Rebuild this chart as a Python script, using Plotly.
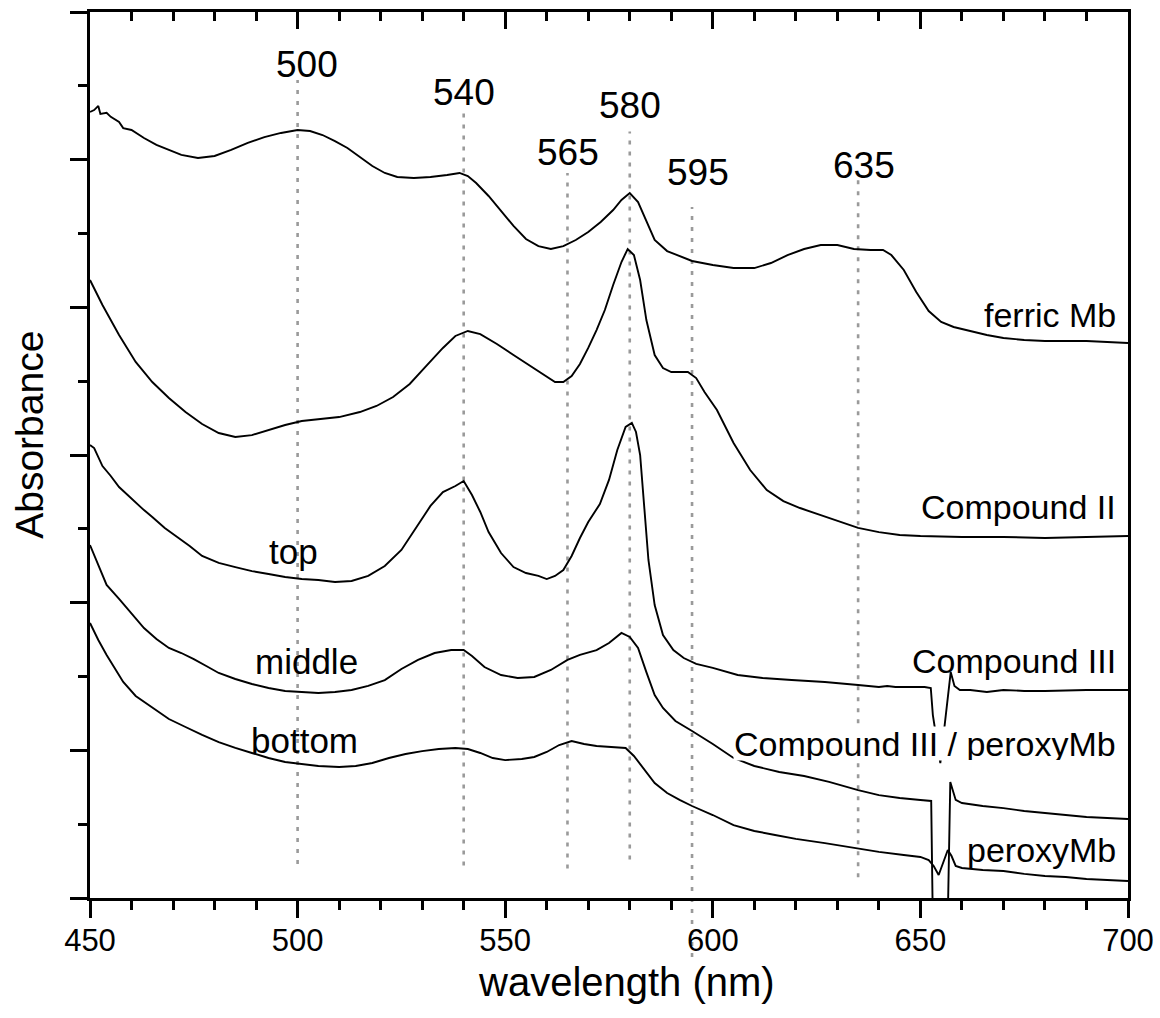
import plotly.graph_objects as go

# ---------------- data ----------------
wl_ferric = [450, 451, 452, 452.5, 454, 455, 457, 458, 460, 463, 466, 469, 472, 476, 480, 484, 488, 492, 496,
             500, 503, 506, 509, 512, 515, 518, 521, 524, 528, 532, 536, 539, 541, 543, 546, 549, 552, 555, 558,
             561, 564, 567, 570, 573, 576, 578, 580, 582, 584, 586, 589, 592, 595, 600, 605, 610, 614, 618, 622,
             626, 630, 634, 638, 641, 643, 646, 649, 652, 655, 658, 662, 666, 670, 675, 680, 685, 690, 695, 700]
abs_ferric = [5.323, 5.336, 5.364, 5.310, 5.317, 5.290, 5.255, 5.214, 5.201, 5.147, 5.100, 5.066, 5.032, 5.011,
              5.025, 5.066, 5.113, 5.153, 5.181, 5.201, 5.194, 5.167, 5.126, 5.079, 5.018, 4.957, 4.910, 4.883,
              4.876, 4.883, 4.896, 4.910, 4.889, 4.842, 4.754, 4.652, 4.551, 4.463, 4.415, 4.395, 4.415, 4.456,
              4.510, 4.578, 4.659, 4.727, 4.774, 4.713, 4.578, 4.456, 4.381, 4.347, 4.314, 4.287, 4.266, 4.266,
              4.300, 4.354, 4.395, 4.422, 4.422, 4.395, 4.388, 4.388, 4.354, 4.253, 4.104, 3.975, 3.901, 3.867,
              3.840, 3.813, 3.792, 3.779, 3.772, 3.772, 3.772, 3.765, 3.758]

wl_comp2 = [450, 453, 457, 461, 465, 469, 473, 477, 481, 485, 489, 493, 497, 501, 505, 510, 515, 519, 523, 527,
            531, 535, 538, 541, 544, 548, 552, 556, 560, 562, 564, 566, 568, 570, 572, 574, 576, 578, 579.5, 581,
            582.5, 584, 586, 588, 590, 594, 596, 598, 601, 605, 609, 613, 617, 621, 626, 630, 635, 640, 645, 650,
            660, 670, 680, 690, 700]
abs_comp2 = [4.185, 4.016, 3.813, 3.630, 3.494, 3.386, 3.291, 3.210, 3.149, 3.122, 3.135, 3.169, 3.203, 3.230,
             3.244, 3.257, 3.291, 3.332, 3.393, 3.481, 3.603, 3.725, 3.806, 3.840, 3.819, 3.752, 3.677, 3.603,
             3.528, 3.494, 3.494, 3.535, 3.616, 3.725, 3.846, 3.982, 4.151, 4.307, 4.395, 4.354, 4.185, 3.914,
             3.677, 3.589, 3.562, 3.562, 3.521, 3.427, 3.305, 3.081, 2.898, 2.763, 2.688, 2.641, 2.593, 2.553,
             2.506, 2.478, 2.458, 2.451, 2.445, 2.445, 2.438, 2.445, 2.451]

wl_comp3 = [450, 451, 453, 455, 457, 459, 461, 463, 465, 468, 471, 474, 477, 481, 485, 489, 493, 497, 501, 505,
            509, 513, 517, 521, 525, 529, 532, 535, 538, 540, 542, 544, 546, 549, 552, 555, 558, 560, 562, 564,
            566, 568, 570, 572.8, 575, 577, 579, 580.5, 581.5, 582.5, 583.5, 584.5, 586, 588, 590.5, 593, 596,
            600, 606, 612, 619, 627, 635, 640, 642, 644, 648, 651, 652.5, 653, 654.8, 656.5, 657.3, 658.2,
            659.5, 662, 666, 670, 675, 680, 690, 700]
abs_comp3 = [3.068, 3.047, 2.925, 2.858, 2.783, 2.729, 2.675, 2.627, 2.580, 2.506, 2.445, 2.384, 2.316, 2.269,
             2.241, 2.214, 2.194, 2.174, 2.160, 2.153, 2.140, 2.147, 2.181, 2.248, 2.357, 2.526, 2.655, 2.749,
             2.790, 2.824, 2.729, 2.614, 2.478, 2.336, 2.241, 2.201, 2.181, 2.160, 2.181, 2.221, 2.316, 2.438,
             2.546, 2.668, 2.831, 3.034, 3.190, 3.217, 3.156, 3.000, 2.661, 2.289, 1.984, 1.781, 1.679, 1.625,
             1.585, 1.558, 1.510, 1.490, 1.476, 1.463, 1.442, 1.429, 1.436, 1.429, 1.429, 1.429, 1.422, 1.239,
             0.914, 1.341, 1.530, 1.436, 1.409, 1.409, 1.395, 1.409, 1.402, 1.402, 1.409, 1.409]

wl_comp3_peroxy = [450, 452, 454, 457, 460, 463, 466, 469, 472, 475, 478, 481, 485, 489, 493, 497, 501, 505, 509,
                   513, 517, 521, 525, 529, 533, 537, 540, 542, 545, 549, 553, 557, 561, 565, 568, 572, 575, 578,
                   580, 582, 584, 586, 588, 591, 595, 600, 605, 610, 616, 622, 628, 635, 640, 645, 650, 652.6,
                   653.2, 656.3, 657.2, 658.5, 660, 665, 670, 675, 680, 685, 690, 695, 700]
abs_comp3_peroxy = [2.390, 2.255, 2.120, 2.025, 1.930, 1.828, 1.754, 1.693, 1.659, 1.618, 1.571, 1.524, 1.483,
                    1.449, 1.422, 1.402, 1.395, 1.388, 1.395, 1.409, 1.436, 1.476, 1.551, 1.612, 1.659, 1.679,
                    1.679, 1.639, 1.564, 1.510, 1.490, 1.497, 1.544, 1.612, 1.646, 1.679, 1.727, 1.795, 1.768,
                    1.693, 1.530, 1.375, 1.287, 1.199, 1.131, 1.043, 0.948, 0.894, 0.853, 0.826, 0.786, 0.731,
                    0.697, 0.677, 0.664, 0.657, -0.6, -0.6, 0.786, 0.664, 0.643, 0.623, 0.609, 0.589, 0.576,
                    0.562, 0.549, 0.542, 0.535]

wl_peroxy = [450, 452, 454, 456, 458, 461, 465, 469, 473, 477, 481, 485, 489, 493, 497, 501, 505, 510, 514, 518,
             522, 526, 530, 534, 538, 541, 544, 547, 550, 554, 557, 560, 563, 566, 569, 572, 576, 579, 581, 583,
             586, 589, 592, 595, 600, 605, 610, 615, 620, 627, 633, 640, 646, 650, 652, 653.2, 654.4, 655.5,
             656.6, 657.5, 658.5, 660, 665, 670, 675, 680, 685, 690, 695, 700]
abs_peroxy = [1.862, 1.747, 1.646, 1.551, 1.463, 1.368, 1.287, 1.212, 1.158, 1.104, 1.056, 1.016, 0.982, 0.948,
              0.921, 0.907, 0.894, 0.887, 0.894, 0.914, 0.948, 0.975, 0.995, 1.009, 1.016, 1.009, 0.982, 0.948,
              0.934, 0.941, 0.955, 0.989, 1.036, 1.063, 1.043, 1.029, 1.023, 1.016, 0.962, 0.887, 0.779, 0.711,
              0.664, 0.623, 0.562, 0.494, 0.454, 0.427, 0.400, 0.372, 0.345, 0.312, 0.291, 0.278, 0.257, 0.217,
              0.156, 0.244, 0.325, 0.284, 0.217, 0.203, 0.190, 0.183, 0.163, 0.149, 0.142, 0.129, 0.122, 0.115]

# marked band positions (nm) and their labels
band_nm = [500, 540, 565, 580, 595, 635]
band_labels = ["500", "540", "565", "580", "595", "635"]

# curve names and the in-plot position labels
curve_names = ["ferric Mb", "Compound II", "Compound III", "Compound III / peroxyMb", "peroxyMb"]
layer_names = ["top", "middle", "bottom"]

# ---------------- layout / style settings ----------------
FONT = "Liberation Sans, Arial, Helvetica, sans-serif"
Y_MIN, Y_MAX = 0, 6
X_MIN, X_MAX = 450, 700

# guide-line vertical extents (axis units) and label placement per band
guide_top = [5.54, 5.32, 4.91, 5.19, 4.68, 4.87]
guide_bottom = [0.23, 0.22, 0.20, 0.26, -0.40, 0.14]
band_label_y = [5.645, 5.455, 5.049, 5.367, 4.914, 4.961]
band_label_dx = [9, 0, 1, 0, 6, 6]

curve_label_y = [3.945, 2.651, 1.608, 1.046, 0.325]
curve_label_bg = [None, None, None, "white", None]
layer_label_x = [499, 502.1, 501.7]
layer_label_y = [2.346, 1.601, 1.066]

series = [
    (wl_ferric, abs_ferric),
    (wl_comp2, abs_comp2),
    (wl_comp3, abs_comp3),
    (wl_comp3_peroxy, abs_comp3_peroxy),
    (wl_peroxy, abs_peroxy),
]

fig = go.Figure()
for (wl, ab), name in zip(series, curve_names):
    fig.add_trace(go.Scatter(x=wl, y=ab, mode="lines", name=name,
                             line=dict(color="black", width=1.9), hoverinfo="x+y+name"))

# invisible trace on the top (mirror) x axis so it is drawn
fig.add_trace(go.Scatter(x=[X_MIN, X_MAX], y=[None, None], xaxis="x2", yaxis="y",
                         mode="lines", showlegend=False, hoverinfo="skip"))


def to_paper(v):
    return (v - Y_MIN) / (Y_MAX - Y_MIN)


shapes = []
annotations = []
for nm, lab, yt, yb, ly, dx in zip(band_nm, band_labels, guide_top, guide_bottom, band_label_y, band_label_dx):
    shapes.append(dict(type="line", xref="x", yref="paper", x0=nm, x1=nm,
                       y0=to_paper(yb), y1=to_paper(yt),
                       line=dict(color="#9a9a9a", width=2.6, dash="4px,7px"), layer="below"))
    annotations.append(dict(x=nm, y=ly, xref="x", yref="y", text=lab, showarrow=False,
                            xshift=dx, font=dict(family=FONT, size=37, color="black")))

for name, ly, bg in zip(curve_names, curve_label_y, curve_label_bg):
    a = dict(x=697.3, y=ly, xref="x", yref="y", text=name, showarrow=False, xanchor="right",
             font=dict(family=FONT, size=34, color="black"), borderpad=0)
    if bg:
        a["bgcolor"] = bg
        a["height"] = 33
    annotations.append(a)

for name, lx, ly in zip(layer_names, layer_label_x, layer_label_y):
    annotations.append(dict(x=lx, y=ly, xref="x", yref="y", text=name, showarrow=False,
                            font=dict(family=FONT, size=35, color="black")))

# axis titles
annotations.append(dict(x=0.517, y=-0.095, xref="paper", yref="paper", text="wavelength (nm)",
                        showarrow=False, font=dict(family=FONT, size=40, color="black"),
                        xanchor="center", yanchor="middle"))
annotations.append(dict(x=-0.058, y=0.5226, xref="paper", yref="paper", text="Absorbance",
                        showarrow=False, textangle=-90, font=dict(family=FONT, size=39, color="black"),
                        xanchor="center", yanchor="middle"))

fig.update_layout(
    width=1160, height=1018,
    margin=dict(l=90, r=32, t=12, b=120, autoexpand=False),
    plot_bgcolor="white", paper_bgcolor="white",
    showlegend=False,
    shapes=shapes, annotations=annotations,
    xaxis=dict(range=[X_MIN, X_MAX], dtick=50, tick0=450, showgrid=False, zeroline=False,
               automargin=False,
               showline=True, linecolor="black", linewidth=3, mirror=False,
               ticks="outside", ticklen=17, tickwidth=2.5, tickcolor="black",
               ticklabeloverflow="allow", ticklabelstandoff=-4,
               tickfont=dict(family=FONT, size=31, color="black"),
               minor=dict(dtick=10, ticks="outside", ticklen=9, tickwidth=2.5, tickcolor="black",
                          showgrid=False)),
    xaxis2=dict(range=[X_MIN, X_MAX], overlaying="x", side="top", anchor="y", dtick=50, tick0=450,
                automargin=False,
                showgrid=False, zeroline=False, showline=True, linecolor="black", linewidth=3,
                ticks="inside", ticklen=17, tickwidth=2.5, tickcolor="black", showticklabels=False,
                minor=dict(dtick=10, ticks="inside", ticklen=9, tickwidth=2.5, tickcolor="black",
                           showgrid=False)),
    yaxis=dict(range=[Y_MIN, Y_MAX], dtick=1, tick0=0, showgrid=False, zeroline=False,
               automargin=False,
               showline=True, linecolor="black", linewidth=3, mirror=True,
               ticks="outside", ticklen=17, tickwidth=2.5, tickcolor="black", showticklabels=False,
               minor=dict(dtick=0.5, ticks="outside", ticklen=9, tickwidth=2.5, tickcolor="black",
                          showgrid=False)),
)

# remove the browser's default 8 px page margin so the 1160x1018 figure fills the window exactly
fig.write_html("out.html", config={"displayModeBar": False},
               post_script="document.body.style.margin='0';")
